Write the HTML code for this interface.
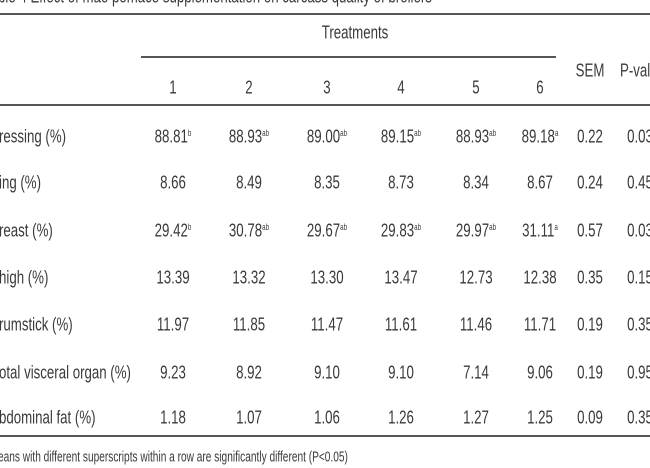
<!DOCTYPE html><html><head><style>
body{margin:0;width:650px;height:450px;overflow:hidden;background:#fff;position:relative;font-family:"Liberation Sans",sans-serif;color:#3a3a3a}
.t{position:absolute;font-size:17px;white-space:nowrap;transform:scale(0.78,1.1);transform-origin:left center;line-height:20px}
.c{position:absolute;font-size:17px;white-space:nowrap;line-height:20px;transform:translateX(-50%) scale(0.78,1.1)}
sup{font-size:8px;vertical-align:top;position:relative;top:-3px}
.l{position:absolute;background:#555}
</style></head><body>
<div class="t" style="left:-2px;top:-13px">ble 4 Effect of mao pomace supplementation on carcass quality of broilers</div>
<div class="l" style="left:0;top:13px;width:650px;height:2px"></div>
<div class="c" style="left:355px;top:23px">Treatments</div>
<div class="l" style="left:141px;top:56px;width:415px;height:2px"></div>
<div class="c" style="left:590px;top:61px">SEM</div>
<div class="t" style="left:620px;top:61px">P-value</div>
<div class="c" style="left:173px;top:78px">1</div><div class="c" style="left:249px;top:78px">2</div><div class="c" style="left:327px;top:78px">3</div><div class="c" style="left:401px;top:78px">4</div><div class="c" style="left:476px;top:78px">5</div><div class="c" style="left:540px;top:78px">6</div>
<div class="l" style="left:0;top:104px;width:650px;height:2px"></div>
<div class="l" style="left:0;top:435px;width:650px;height:2px"></div>
<div id="rows"></div>
<div class="t" style="left:-2px;top:447px;font-size:13px">eans with different superscripts within a row are significantly different (P&lt;0.05)</div>
<script>
var R=[["ressing (%)",["88.81<sup>b</sup>","88.93<sup>ab</sup>","89.00<sup>ab</sup>","89.15<sup>ab</sup>","88.93<sup>ab</sup>","89.18<sup>a</sup>","0.22","0.03"]],
["ing (%)",["8.66","8.49","8.35","8.73","8.34","8.67","0.24","0.45"]],
["reast (%)",["29.42<sup>b</sup>","30.78<sup>ab</sup>","29.67<sup>ab</sup>","29.83<sup>ab</sup>","29.97<sup>ab</sup>","31.11<sup>a</sup>","0.57","0.03"]],
["high (%)",["13.39","13.32","13.30","13.47","12.73","12.38","0.35","0.15"]],
["rumstick (%)",["11.97","11.85","11.47","11.61","11.46","11.71","0.19","0.35"]],
["otal visceral organ (%)",["9.23","8.92","9.10","9.10","7.14","9.06","0.19","0.95"]],
["bdominal fat (%)",["1.18","1.07","1.06","1.26","1.27","1.25","0.09","0.35"]]];
var Y=[137,183,231,278,325,373,418],X=[173,249,327,401,476,540,590,640],h="";
R.forEach(function(r,i){var y=Y[i]-10;h+='<div class="t" style="left:-1px;top:'+y+'px">'+r[0]+'</div>';
r[1].forEach(function(v,j){h+='<div class="c" style="left:'+X[j]+'px;top:'+y+'px">'+v+'</div>';});});
document.getElementById("rows").innerHTML=h;
</script>
</body></html>
